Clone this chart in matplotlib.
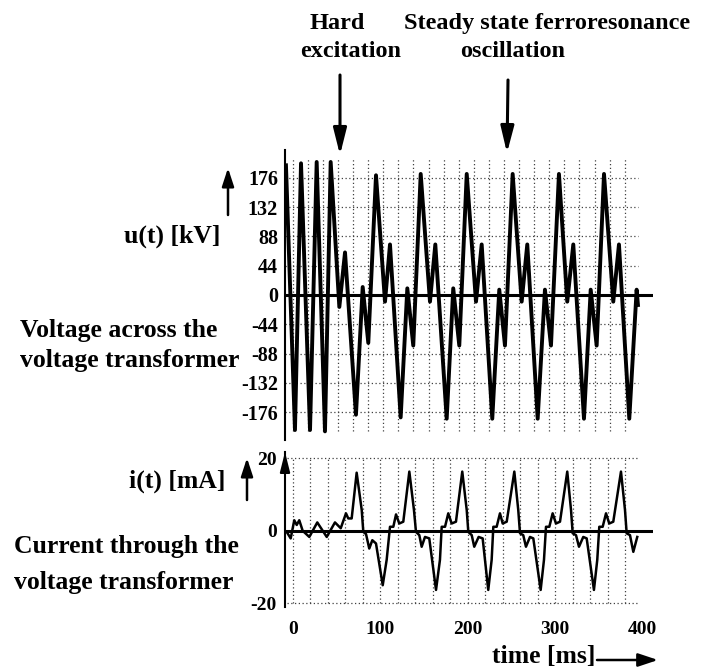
import matplotlib
matplotlib.use("Agg")
import matplotlib.pyplot as plt
from matplotlib.patches import ArrowStyle
import numpy as np

W, H = 713, 670

# u(t) trace, time in ms, voltage in kV (vertices)
volt_t = [-7.7, 2.6, 9.5, 19.8, 27.4, 36.9, 43.4,
          53.3, 59.8, 72.3, 80.0, 86.4,
          95.2, 105.5, 111.2, 123.4, 131.0, 137.8,
          146.3, 156.9, 163.0, 176.0, 183.5, 190.4,
          198.9, 209.5, 216.0, 228.1, 236.1, 242.6,
          251.4, 261.7, 268.1, 280.0, 288.3, 295.2,
          304.3, 313.8, 320.7, 332.9, 340.6, 347.4,
          355.8, 366.4, 372.9, 384.7, 393.1, 394.6]
volt_kv = [195, -203, 198, -203, 200, -205, 200,
           -18, 64, -180, 12, -72,
           180, -10, 76, -184, 10, -76,
           182, -10, 76, -186, 10, -76,
           182, -10, 76, -186, 8, -76,
           182, -10, 76, -186, 8, -76,
           182, -10, 76, -186, 8, -76,
           182, -10, 76, -186, 8, -15]

# i(t) trace, time in ms, current in mA
curr_t = [-6.9, -2.3, 1.8, 4.6, 7.5, 11.4, 19.0, 28.1, 38.9, 48.3, 54.9, 60.9, 63.5, 67.4,
          73.1, 78.9, 80.7, 83.8, 87.5, 91.0, 95.2, 102.9, 107.4, 111.2, 115.0, 118.1, 121.8, 126.4,
          133.3, 138.6, 140.9, 144.7, 147.4, 151.2, 156.1, 163.8, 168.3, 170.3, 174.1, 177.8, 181.7, 186.6,
          193.8, 198.9, 200.7, 204.6, 207.5, 212.5, 217.1, 223.5, 227.4, 229.3, 233.1, 236.9, 240.0, 244.6,
          253.3, 257.8, 259.8, 263.5, 266.6, 271.2, 275.0, 283.4, 287.2, 289.5, 293.3, 297.1, 300.9, 305.5,
          313.8, 318.1, 320.0, 323.8, 327.2, 332.1, 336.0, 344.3, 348.1, 350.4, 354.3, 358.1, 361.8, 366.4,
          375.2, 379.8, 381.7, 385.5, 389.3, 393.8]
curr_ma = [-0.3, -2.1, 2.9, 1.6, 2.9, 0.0, -1.7, 2.3, -1.7, 2.3, 0.7, 4.8, 3.4, 3.4,
           16.0, 5.7, -0.3, -0.9, -4.9, -2.6, -3.5, -15.0, -8.0, 1.1, 1.1, 4.5, 2.0, 2.5,
           16.3, 5.7, -0.3, -1.2, -4.4, -1.7, -2.1, -16.3, -8.0, 1.1, 1.1, 4.8, 2.0, 2.5,
           16.3, 5.7, -0.3, -1.2, -4.4, -1.7, -2.1, -16.3, -8.0, 1.1, 1.1, 4.8, 2.0, 2.5,
           16.3, 5.7, -0.7, -1.2, -4.4, -1.7, -2.1, -16.3, -8.0, 1.1, 1.1, 4.8, 2.0, 2.5,
           16.3, 5.7, -0.7, -1.2, -4.4, -1.7, -2.1, -16.3, -8.0, 1.1, 1.1, 4.8, 2.0, 2.5,
           16.3, 5.7, -0.7, -1.2, -5.8, -1.7]

volt_ticks = [176, 132, 88, 44, 0, -44, -88, -132, -176]
curr_ticks = [20, 0, -20]
time_ticks = [0, 100, 200, 300, 400]

plt.rcParams["font.family"] = ["Liberation Serif", "DejaVu Serif"]
plt.rcParams["font.weight"] = "bold"


def fx(x):
    return x / W


def fy(y):
    return 1 - y / H


def arrow(x0, y0, x1, y1, hl, hw, lw):
    # pixel coords measured from the top-left corner
    style = ArrowStyle("-|>", head_length=hl, head_width=hw)
    fig.add_artist(plt.Annotation(
        "", xy=(x1, H - y1), xytext=(x0, H - y0), xycoords="figure pixels",
        arrowprops=dict(arrowstyle=style, lw=lw, color="black",
                        mutation_scale=20, shrinkA=0, shrinkB=0)))


fig = plt.figure(figsize=(W / 100, H / 100), dpi=100)

xlim = (-8.8, 411.8)
dots = dict(color="0.25", lw=0.9, linestyle=(0, (1, 2)))

# voltage panel
ax_u = fig.add_axes([fx(285), fy(440), (653 - 285) / W, (440 - 150) / H])
ax_u.set_xlim(xlim)
ax_u.set_ylim(-218, 218)
ax_u.vlines(np.arange(0, 385, 17.25), -205, 205, **dots)
ax_u.hlines([v for v in volt_ticks if v != 0], xlim[0], 395, **dots)
ax_u.axhline(0, color="black", lw=2.2)
ax_u.plot(volt_t, volt_kv, color="black", lw=2.8, solid_joinstyle="round")
ax_u.set_yticks(volt_ticks)
ax_u.set_yticklabels([str(v) for v in volt_ticks], fontsize=14.5, fontweight="bold")
ax_u.tick_params(axis="y", length=0, pad=5)
ax_u.set_xticks([])
for s in ["top", "right", "bottom"]:
    ax_u.spines[s].set_visible(False)
ax_u.spines["left"].set_linewidth(1.5)

# current panel
ax_i = fig.add_axes([fx(285), fy(607), (653 - 285) / W, (607 - 452) / H])
ax_i.set_xlim(xlim)
ax_i.set_ylim(-21, 21.7)
ax_i.vlines(np.arange(0, 381, 20), -20, 20, **dots)
ax_i.hlines([20, -20], -6.5, 395, **dots)
ax_i.axhline(0, color="black", lw=2.2)
ax_i.plot(curr_t, curr_ma, color="black", lw=1.8, solid_joinstyle="round")
ax_i.set_yticks(curr_ticks)
ax_i.set_yticklabels([str(v) for v in curr_ticks], fontsize=14, fontweight="bold")
ax_i.set_xticks(time_ticks)
ax_i.set_xticklabels([str(v) for v in time_ticks], fontsize=14, fontweight="bold")
ax_i.tick_params(axis="y", length=0, pad=6)
ax_i.tick_params(axis="x", length=0, pad=10)
for s in ["top", "right", "bottom"]:
    ax_i.spines[s].set_visible(False)
ax_i.spines["left"].set_linewidth(1.5)
ax_i.annotate("", xy=(0, 1.0), xytext=(0, 0.9), xycoords="axes fraction",
              arrowprops=dict(arrowstyle=ArrowStyle("-|>", head_length=0.6, head_width=0.15),
                              lw=1.5, color="black", mutation_scale=20,
                              shrinkA=0, shrinkB=0))

# header
big = dict(fontsize=17.5, fontweight="bold")
fig.text(fx(337), fy(29), "Hard", ha="center", va="baseline", **big)
fig.text(fx(351), fy(57), "excitation", ha="center", va="baseline", **big)
fig.text(fx(404), fy(29), "Steady state ferroresonance", ha="left", va="baseline", **big)
fig.text(fx(513), fy(57), "oscillation", ha="center", va="baseline", **big)
arrow(340, 75, 340, 155, 0.8, 0.2, 2.2)
arrow(508, 80, 507, 153, 0.8, 0.2, 2.2)

# left side labels
lab = dict(fontsize=18.5, fontweight="bold")
fig.text(fx(172), fy(236), "u(t) [kV]", ha="center", va="center", **lab)
arrow(228, 215, 228, 168, 0.55, 0.18, 1.8)
fig.text(fx(20), fy(331), "Voltage across the", ha="left", va="center", **lab)
fig.text(fx(20), fy(361), "voltage transformer", ha="left", va="center", **lab)

fig.text(fx(177), fy(481), "i(t) [mA]", ha="center", va="center", **lab)
arrow(247, 500, 247, 458, 0.55, 0.18, 1.8)
fig.text(fx(14), fy(547), "Current through the", ha="left", va="center", **lab)
fig.text(fx(14), fy(582), "voltage transformer", ha="left", va="center", **lab)

fig.text(fx(492), fy(657), "time [ms]", ha="left", va="center", **lab)
arrow(597, 660, 658, 660, 0.6, 0.2, 1.8)

fig.savefig("out.png", dpi=100)
